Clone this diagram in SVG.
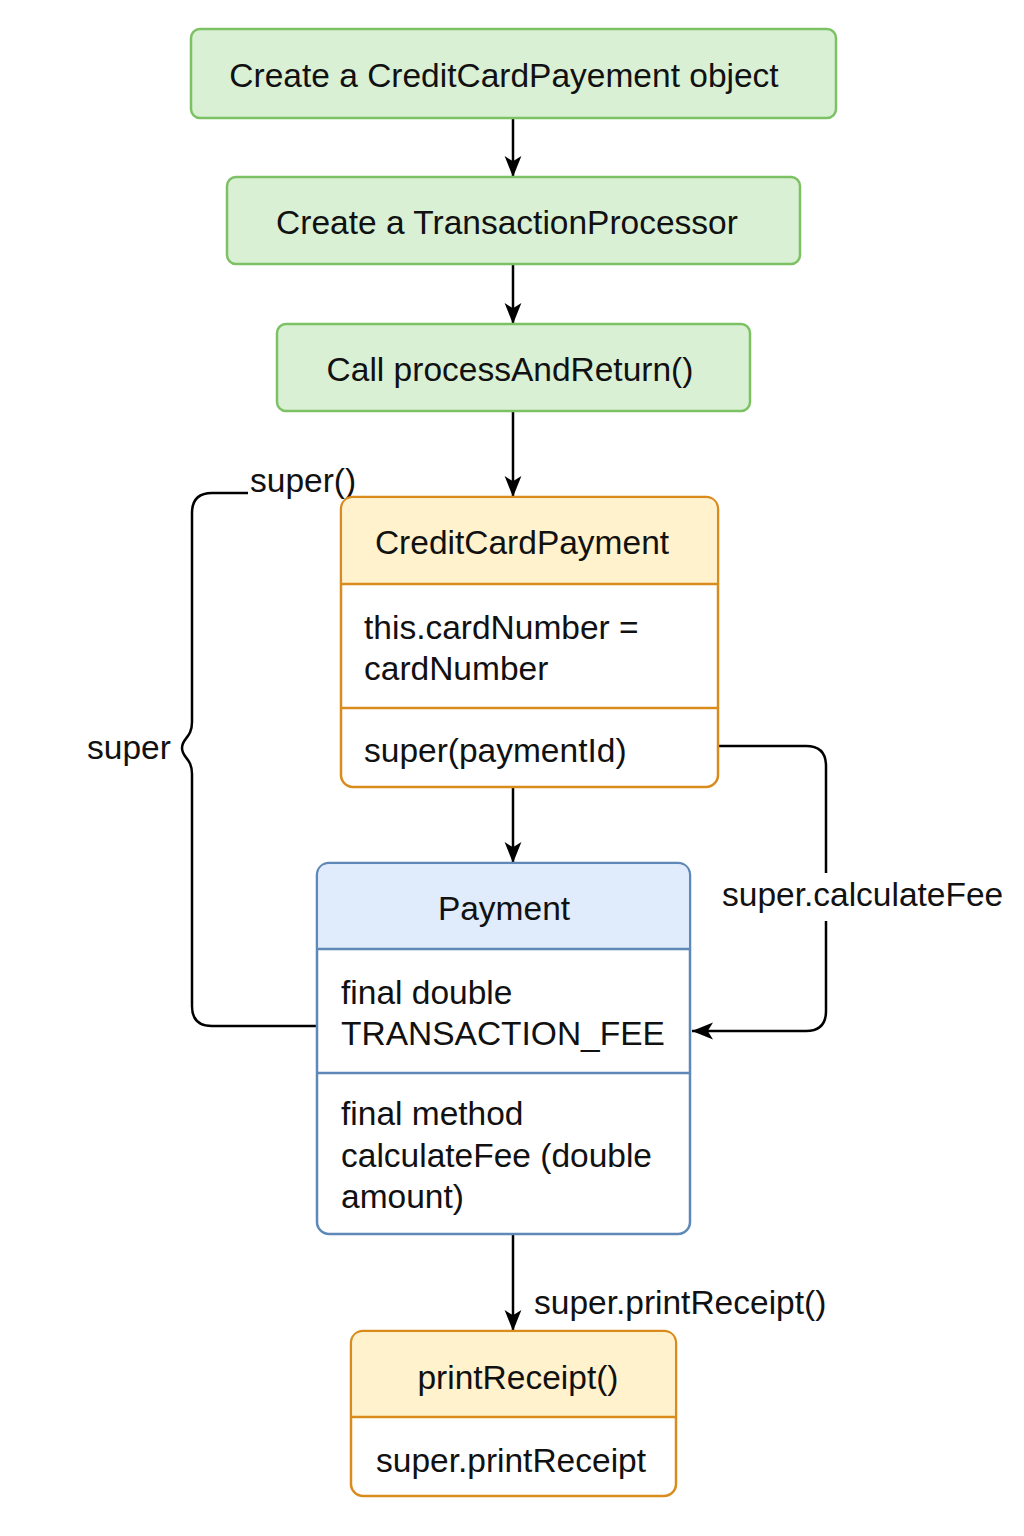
<svg xmlns="http://www.w3.org/2000/svg" width="1024" height="1536" viewBox="0 0 1024 1536">
<defs>
<style>
text{font-family:"Liberation Sans",Arial,sans-serif;font-size:33.5px;fill:#111}
.c{text-anchor:middle}
.g{fill:#d9f0d4;stroke:#7dc165;stroke-width:2.5}
.o{fill:#ffffff;stroke:#d98b1c;stroke-width:2.5}
.oh{fill:#fff2cc}
.b{fill:#ffffff;stroke:#5e88b8;stroke-width:2.5}
.bh{fill:#e0ecfb}
.ln{fill:none;stroke:#000;stroke-width:2.5}
</style>
<marker id="a" viewBox="0 0 20 20" refX="20" refY="10" markerWidth="21" markerHeight="21" markerUnits="userSpaceOnUse" orient="auto">
<path d="M0,2 L20,10 L0,18 L5,10 Z" fill="#000"/>
</marker>
</defs>

<g id="connectors">
<path class="ln" d="M513,118 V177" marker-end="url(#a)"/>
<path class="ln" d="M513,264 V324" marker-end="url(#a)"/>
<path class="ln" d="M513,411 V497" marker-end="url(#a)"/>
<path class="ln" d="M513,787 V863" marker-end="url(#a)"/>
<path class="ln" d="M513,1234 V1331" marker-end="url(#a)"/>
<text x="534" y="1314">super.printReceipt()</text>
<path class="ln" d="M317,1026 H212 Q192,1026 192,1006 V774 C192,758 182,758 182,748 C182,738 192,738 192,722 V513 Q192,493 212,493 H248"/>
<text x="250" y="492">super()</text>
<text x="87" y="759">super</text>
<path class="ln" d="M718,746 H806 Q826,746 826,766 V873"/>
<path class="ln" d="M826,921 V1011 Q826,1031 806,1031 H692" marker-end="url(#a)"/>
<text x="722" y="906">super.calculateFee</text>
</g>

<g id="node-create-ccp">
<rect class="g" x="191" y="29" width="645" height="89" rx="9"/>
<text class="c" x="504" y="87">Create a CreditCardPayement object</text>
</g>
<g id="node-create-tp">
<rect class="g" x="227" y="177" width="573" height="87" rx="9"/>
<text class="c" x="507" y="234">Create a TransactionProcessor</text>
</g>
<g id="node-call">
<rect class="g" x="277" y="324" width="473" height="87" rx="9"/>
<text class="c" x="510" y="381">Call processAndReturn()</text>
</g>

<g id="node-creditcardpayment">
<rect class="o" x="341" y="497" width="377" height="290" rx="12"/>
<path class="oh" d="M353,498.3 H706 Q716.7,498.3 716.7,509 V583 H342.3 V509 Q342.3,498.3 353,498.3 Z"/>
<path class="ln" style="stroke:#d98b1c" d="M341,584 H718 M341,708 H718"/>
<text class="c" x="522" y="554">CreditCardPayment</text>
<text x="364" y="639">this.cardNumber =</text>
<text x="364" y="680">cardNumber</text>
<text x="364" y="762">super(paymentId)</text>
</g>

<g id="node-payment">
<rect class="b" x="317" y="863" width="373" height="371" rx="12"/>
<path class="bh" d="M329,864.3 H678 Q688.7,864.3 688.7,875 V948 H318.3 V875 Q318.3,864.3 329,864.3 Z"/>
<path class="ln" style="stroke:#5e88b8" d="M317,949 H690 M317,1073 H690"/>
<text class="c" x="504" y="920">Payment</text>
<text x="341" y="1004">final double</text>
<text x="341" y="1045">TRANSACTION_FEE</text>
<text x="341" y="1125">final method</text>
<text x="341" y="1167">calculateFee (double</text>
<text x="341" y="1208">amount)</text>
</g>

<g id="node-printreceipt">
<rect class="o" x="351" y="1331" width="325" height="165" rx="12"/>
<path class="oh" d="M363,1332.3 H664 Q674.7,1332.3 674.7,1343 V1416 H352.3 V1343 Q352.3,1332.3 363,1332.3 Z"/>
<path class="ln" style="stroke:#d98b1c" d="M351,1417 H676"/>
<text class="c" x="518" y="1389">printReceipt()</text>
<text x="376" y="1472">super.printReceipt</text>
</g>
</svg>
